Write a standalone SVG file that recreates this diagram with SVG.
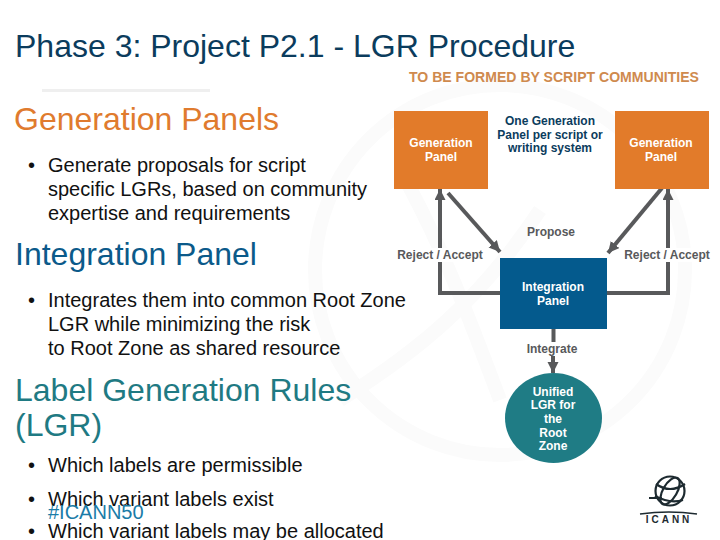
<svg xmlns="http://www.w3.org/2000/svg" width="720" height="540" viewBox="0 0 720 540">
<style>
text{font-family:"Liberation Sans",Arial,sans-serif}
.b{font-size:20px;fill:#111}
.c{font-size:12px;font-weight:bold;text-anchor:middle;fill:#fff}
.l{font-size:12px;font-weight:bold;text-anchor:middle;fill:#58595b}
.a{fill:none;stroke:#58595b;stroke-width:4}
</style>
<defs>
<marker id="ah" markerUnits="userSpaceOnUse" markerWidth="14" markerHeight="12" refX="11" refY="5.500" orient="auto"><path d="M0 0L11 5.500L0 11z" fill="#58595b"/></marker>
</defs>
<rect width="720" height="540" fill="#fff"/>
<g id="watermark" fill="none" stroke="#fbfbfb" stroke-width="14">
<circle cx="500" cy="270" r="185"/>
<path d="M340 400C420 350 480 300 540 210M400 170C440 240 470 320 500 400"/>
</g>
<rect x="42" y="89" width="168" height="3" fill="#efefef"/>
<text x="15" y="57" font-size="32" fill="#0b3c5d">Phase 3: Project P2.1 - LGR Procedure</text>
<text x="409" y="82" font-size="14" font-weight="bold" fill="#cf8a4e" textLength="290" lengthAdjust="spacingAndGlyphs">TO BE FORMED BY SCRIPT COMMUNITIES</text>
<text x="14" y="130" font-size="32" fill="#e07b2e">Generation Panels</text>
<text x="28" y="172" class="b">•</text>
<text class="b"><tspan x="48" y="172">Generate proposals for script</tspan><tspan x="48" y="196">specific LGRs, based on community</tspan><tspan x="48" y="220">expertise and requirements</tspan></text>
<text x="15" y="265" font-size="32" fill="#0b5a8a">Integration Panel</text>
<text x="28" y="307" class="b">•</text>
<text class="b"><tspan x="48" y="307">Integrates them into common Root Zone</tspan><tspan x="48" y="331">LGR while minimizing the risk</tspan><tspan x="48" y="355">to Root Zone as shared resource</tspan></text>
<text font-size="32" fill="#1f7a83"><tspan x="15" y="401">Label Generation Rules</tspan><tspan x="15" y="436">(LGR)</tspan></text>
<text x="28" y="472" class="b">•</text>
<text x="48" y="472" class="b">Which labels are permissible</text>
<text x="28" y="506" class="b">•</text>
<text x="48" y="506" class="b">Which variant labels exist</text>
<text x="48" y="519" font-size="20" fill="#1a7ca8">#ICANN50</text>
<text x="28" y="538" class="b">•</text>
<text x="48" y="538" class="b">Which variant labels may be allocated</text>
<g id="connectors">
<path class="a" d="M500 293H440V189" marker-end="url(#ah)"/>
<path class="a" d="M448 193L500 252" marker-end="url(#ah)"/>
<path class="a" d="M662 188L608 253" marker-end="url(#ah)"/>
<path class="a" d="M607 293H668V189" marker-end="url(#ah)"/>
<path class="a" d="M553.500 329V342"/>
<path class="a" d="M553 356V373" marker-end="url(#ah)"/>
</g>
<g id="gp1"><rect x="394" y="111" width="94" height="78" fill="#e27b2a"/><text class="c"><tspan x="441" y="147">Generation</tspan><tspan x="441" y="161">Panel</tspan></text></g>
<g id="gp2"><rect x="615" y="111" width="94" height="78" fill="#e27b2a"/><text class="c"><tspan x="661" y="147">Generation</tspan><tspan x="661" y="161">Panel</tspan></text></g>
<g id="note"><text class="c" style="fill:#0b3c5d"><tspan x="550" y="125">One Generation</tspan><tspan x="550" y="139">Panel per script or</tspan><tspan x="550" y="152">writing system</tspan></text></g>
<g id="ip"><rect x="500" y="258" width="107" height="71" fill="#045a8d"/><text class="c"><tspan x="553" y="291">Integration</tspan><tspan x="553" y="305">Panel</tspan></text></g>
<g id="lgr"><ellipse cx="553.500" cy="418" rx="48.500" ry="45" fill="#1f7c85"/><text class="c"><tspan x="553" y="396">Unified</tspan><tspan x="553" y="409">LGR for</tspan><tspan x="553" y="423">the</tspan><tspan x="553" y="437">Root</tspan><tspan x="553" y="450">Zone</tspan></text></g>
<g id="labels">
<rect x="397" y="248" width="86" height="14" fill="#fff"/><rect x="624" y="248" width="86" height="14" fill="#fff"/>
<text x="551" y="236" class="l">Propose</text><text x="440" y="259" class="l">Reject / Accept</text><text x="667" y="259" class="l">Reject / Accept</text><text x="552" y="353" class="l">Integrate</text></g>
<g id="logo" fill="none" stroke="#1d2a30">
<circle cx="670" cy="491" r="14.500" stroke-width="2.200"/>
<ellipse cx="670" cy="491" rx="7" ry="15" stroke-width="2.200" transform="rotate(30 670 491)"/>
<path d="M656 484Q670 494 685 484M655 496Q670 504 683 500M649 498H662" stroke-width="2.200"/>
<path d="M640 514Q669 510 697 514" stroke-width="1.500"/>
<text x="669" y="523" font-size="10" font-weight="bold" fill="#1d2a30" stroke="none" text-anchor="middle" letter-spacing="3">ICANN</text>
</g>
</svg>
